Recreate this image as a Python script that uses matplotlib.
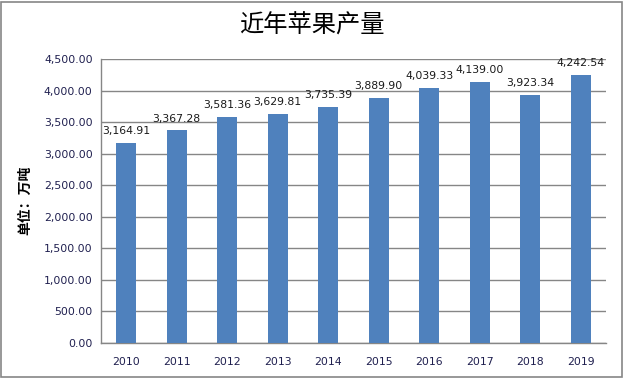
import matplotlib
matplotlib.use("Agg")
import matplotlib.pyplot as plt
from matplotlib.patches import Rectangle

years = ["2010", "2011", "2012", "2013", "2014", "2015", "2016", "2017", "2018", "2019"]
values = [3164.91, 3367.28, 3581.36, 3629.81, 3735.39, 3889.90, 4039.33, 4139.00, 3923.34, 4242.54]
yticks = [0, 500, 1000, 1500, 2000, 2500, 3000, 3500, 4000, 4500]

plt.rcParams['font.family'] = ['DejaVu Sans', 'Noto Sans CJK SC']

fig = plt.figure(figsize=(6.24, 3.78), dpi=100)
W, H = 624, 378
ax = fig.add_axes([101 / W, 1 - 343 / H, (606 - 101) / W, (343 - 59) / H])

x = list(range(len(years)))
ax.bar(x, values, width=0.4, color="#4F81BD", zorder=3)
ax.set_xlim(-0.5, len(years) - 0.5)
ax.set_ylim(0, 4500)
ax.set_yticks(yticks)
ax.set_yticklabels([f"{v:,.2f}" for v in yticks], fontsize=7.8, color="#1F1F4F")
ax.set_xticks(x)
ax.set_xticklabels(years, fontsize=7.8, color="#1F1F4F")
ax.tick_params(axis='y', length=0, pad=6)
ax.tick_params(axis='x', length=0, pad=10)
ax.grid(axis='y', color="#868686", linewidth=1, zorder=0)
for s in ["top", "right"]:
    ax.spines[s].set_visible(False)
for s in ["left", "bottom"]:
    ax.spines[s].set_color("#868686")
    ax.spines[s].set_linewidth(1)

for xi, v in zip(x, values):
    ax.annotate(f"{v:,.2f}", (xi, v), xytext=(0, 5), textcoords="offset points",
                ha="center", va="bottom", fontsize=7.8, color="#1A1A1A", zorder=4)

fig.text(25 / W, 1 - 200 / H, "单位：万吨", rotation=90, ha="center", va="center",
         family=['Noto Sans CJK SC', 'DejaVu Sans'], fontsize=10, fontweight='bold')

fig.text(0.5, 1 - 26 / H, "近年苹果产量", ha="center", va="center",
         fontsize=17.5, family=['Noto Sans CJK SC', 'DejaVu Sans'], color="#000000")

fig.patches.append(Rectangle((1 / W, 1 / H), 1 - 3 / W, 1 - 3 / H, transform=fig.transFigure,
                             fill=False, edgecolor="#868686", linewidth=1.2))

fig.savefig("out.png", dpi=100)
